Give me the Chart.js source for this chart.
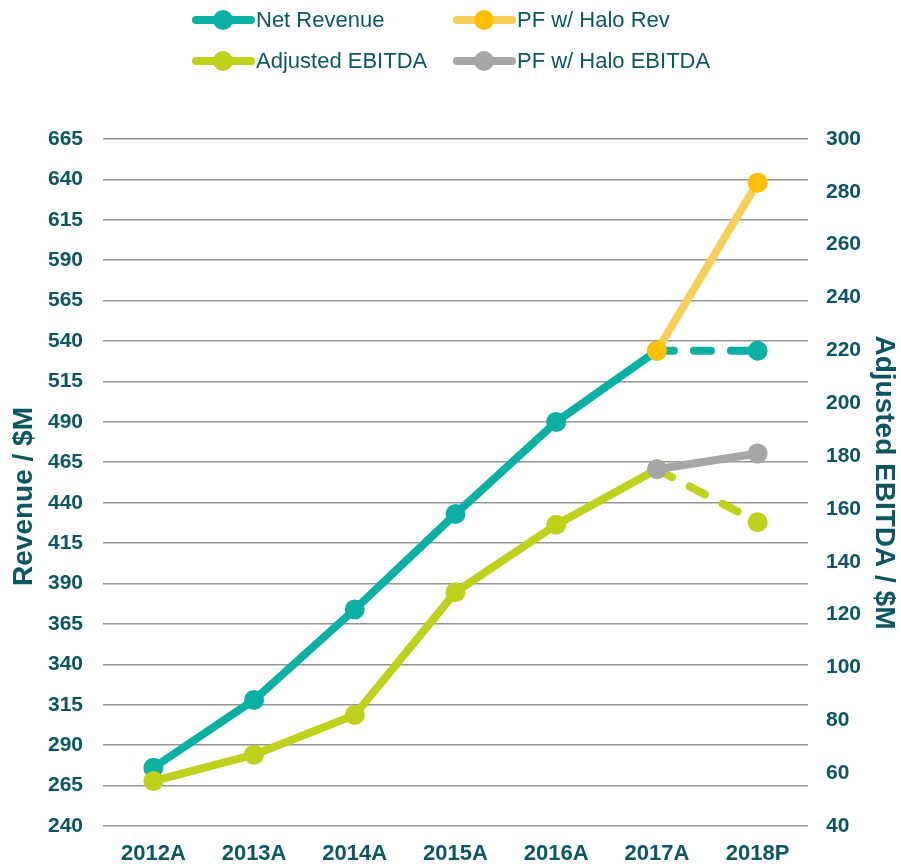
<!DOCTYPE html>
<html>
<head>
<meta charset="utf-8">
<script src="https://cdn.jsdelivr.net/npm/chart.js@4.4.0/dist/chart.umd.min.js"></script>
<style>
  html,body{margin:0;padding:0;background:#fff}
  #wrap{position:relative;width:901px;height:864px}
  canvas{position:absolute;left:0;top:0}
  .lg{position:absolute;display:flex;align-items:center;height:20px;font:22px "Liberation Sans",Arial,sans-serif;color:#0c5662;white-space:nowrap}
  .sym{position:relative;width:63px;height:20px;margin-right:1px}
  .sym .ln{position:absolute;left:0;right:0;top:6px;height:8px;border-radius:4px}
  .sym .dt{position:absolute;left:21px;top:0;width:20px;height:20px;border-radius:50%}
</style>
</head>
<body>
<div id="wrap">
  <canvas id="c" width="901" height="864"></canvas>
  <div id="legend"></div>
</div>
<script>
// categories and series
const years       = ['2012A','2013A','2014A','2015A','2016A','2017A','2018P'];
const netRevenue  = [276, 318, 374, 433, 490, 534, 534];
const adjEbitda   = [57, 67, 82, 128.5, 154, 175, 155];
const pfHaloRev   = [null, null, null, null, null, 534, 638];
const pfHaloEbit  = [null, null, null, null, null, 175, 181];

const TEAL='#0bb0a5', LIME='#bdd11d', YEL_LINE='#f5cf59', YEL_PT='#ffc000', GREY='#a6a6a6';
const TXT='#0c5662';
const FONT='"Liberation Sans", Arial, sans-serif';

// legend built in html: [label, line colour, dot colour, left, top]
const legendItems = [
  ['Net Revenue',        TEAL,     TEAL,   192, 10],
  ['PF w/ Halo Rev',     YEL_LINE, YEL_PT, 453, 10],
  ['Adjusted EBITDA',    LIME,     LIME,   192, 51],
  ['PF w/ Halo EBITDA',  GREY,     GREY,   453, 51],
];
document.getElementById('legend').innerHTML = legendItems.map(([l,lc,dc,x,y])=>`
  <div class="lg" style="left:${x}px;top:${y}px">
    <div class="sym"><div class="ln" style="background:${lc}"></div><div class="dt" style="background:${dc}"></div></div>${l}
  </div>`).join('');

const dashLast = ctx => ctx.p0DataIndex === 5 ? [17,20] : undefined;
const base = { borderWidth:8, pointRadius:10, pointHoverRadius:10, borderCapStyle:'round', borderJoinStyle:'round', tension:0, pointBorderWidth:0 };
const tickFont = { family:FONT, size:21, weight:'bold' };
const titleFont = { family:FONT, size:28, weight:'bold' };

new Chart(document.getElementById('c'), {
  type:'line',
  data:{
    labels:years,
    datasets:[
      { ...base, label:'PF w/ Halo Rev', data:pfHaloRev, yAxisID:'y', order:0,
        borderColor:YEL_LINE, backgroundColor:YEL_PT, pointBackgroundColor:YEL_PT },
      { ...base, label:'PF w/ Halo EBITDA', data:pfHaloEbit, yAxisID:'y1', order:1,
        borderColor:GREY, backgroundColor:GREY, pointBackgroundColor:GREY },
      { ...base, label:'Adjusted EBITDA', data:adjEbitda, yAxisID:'y1', order:2,
        borderColor:LIME, backgroundColor:LIME, pointBackgroundColor:LIME,
        segment:{ borderDash:dashLast } },
      { ...base, label:'Net Revenue', data:netRevenue, yAxisID:'y', order:3,
        borderColor:TEAL, backgroundColor:TEAL, pointBackgroundColor:TEAL,
        segment:{ borderDash:dashLast } },
    ]
  },
  options:{
    responsive:false, animation:false, maintainAspectRatio:false,
    layout:{ padding:{ top:139, left:0, right:0, bottom:0 } },
    plugins:{ legend:{ display:false }, tooltip:{ enabled:false } },
    scales:{
      x:{
        offset:true,
        grid:{ display:false, drawTicks:false },
        border:{ display:false },
        ticks:{ color:TXT, padding:15, font:{ family:FONT, size:22, weight:'bold' } },
        afterFit:s=>{ s.height = 38; }
      },
      y:{
        position:'left', min:240, max:665,
        grid:{ color:'#959595', lineWidth:1.6, drawTicks:false },
        border:{ display:false },
        ticks:{ stepSize:25, color:TXT, padding:20, font:tickFont },
        // trailing en spaces nudge the rotated title a little lower, as in the original
        title:{ display:true, text:'Revenue / $M\u2002\u2002', color:TXT, padding:{ top:7, bottom:0 }, font:titleFont },
        afterFit:s=>{ s.width = 103; }
      },
      y1:{
        position:'right', min:40, max:300,
        grid:{ display:false, drawTicks:false },
        border:{ display:false },
        ticks:{ stepSize:20, color:TXT, padding:18, font:tickFont },
        title:{ display:true, text:'Adjusted EBITDA / $M', color:TXT, padding:{ top:0, bottom:0 }, font:titleFont },
        afterFit:s=>{ s.width = 93; }
      }
    }
  }
});
</script>
</body>
</html>
